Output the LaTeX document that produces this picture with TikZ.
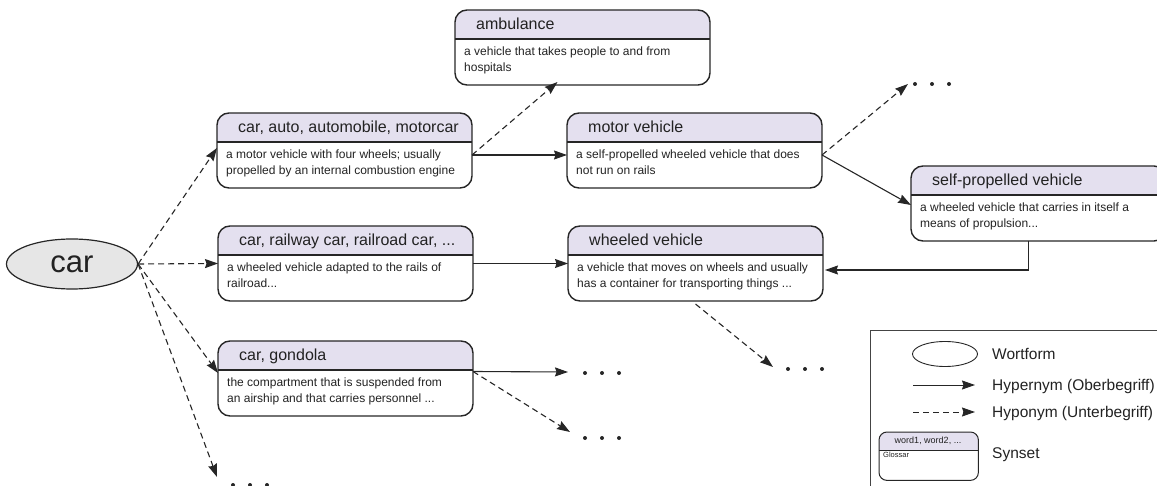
\documentclass[tikz,border=0pt]{standalone}
\usepackage{fontspec}
\setmainfont{Liberation Sans}
\usetikzlibrary{arrows.meta,calc,shapes.geometric}
\definecolor{lav}{HTML}{E4E0EF}
\definecolor{ellfill}{HTML}{E6E6E6}
\definecolor{edgecol}{HTML}{262626}
\definecolor{txt}{HTML}{222222}
\definecolor{legcol}{HTML}{444444}

\tikzset{
  sbox/.style={anchor=north west, minimum width=255pt, minimum height=75pt, inner sep=0pt, outer sep=0pt},
  shead/.style={anchor=base west, inner sep=0pt, font=\fontsize{16}{19}\selectfont, text=txt},
  sbody/.style={anchor=north west, inner sep=0pt, align=left, font=\fontsize{12}{15.5}\selectfont, text=txt},
  hyper/.style={draw=edgecol, line width=1.1pt, -{Stealth[length=13pt,width=9pt,inset=1.5pt]}},
  hypo/.style={hyper, dash pattern=on 6pt off 4pt},
  legtext/.style={anchor=base west, inner sep=0pt, font=\fontsize{15.5}{19}\selectfont, text=txt},
}

\newcommand\synsetbox[6]{%
  \node[sbox] (#1) at (#2,#3) {};
  \begin{scope}
    \clip[rounded corners=12pt] (#1.north west) rectangle (#1.south east);
    \fill[lav] (#1.north west) rectangle ([yshift=-29pt]#1.north east);
  \end{scope}
  \draw[edgecol, line width=1.1pt] ([yshift=-29pt]#1.north west) -- ([yshift=-29pt]#1.north east);
  \draw[edgecol, line width=1.4pt, rounded corners=12pt] (#1.north west) rectangle (#1.south east);
  \node[shead] (#1-h) at ([xshift=21pt,yshift=-20pt]#1.north west) {#4};
  \node[sbody] (#1-b) at ([xshift=9pt,yshift=-34.5pt]#1.north west) {\strut #5\\#6};
}

\newcommand\dotrow[3]{%
  \coordinate (#1) at (#2,#3);
  \foreach \k in {0,1,2} \fill[edgecol] ([xshift=\k*17pt]#1) circle (2pt);
}

\begin{document}
\begin{tikzpicture}[x=1pt,y=-1pt]
\useasboundingbox (0,0) rectangle (1157,486);
\clip (0,0) rectangle (1157,486);

% word form
\node[ellipse, draw=edgecol, line width=1.2pt, fill=ellfill, minimum width=131pt, minimum height=50pt,
      inner sep=0pt, font=\fontsize{31}{36}\selectfont, text=txt] (car) at (72,264) {car};

% synsets
\synsetbox{auto}{217}{113}{car, auto, automobile, motorcar}{a motor vehicle with four wheels; usually}{propelled by an internal combustion engine}
\synsetbox{amb}{455}{10}{ambulance}{a vehicle that takes people to and from}{hospitals}
\synsetbox{motor}{567}{113}{motor vehicle}{a self-propelled wheeled vehicle that does}{not run on rails}
\synsetbox{self}{911}{166}{self-propelled vehicle}{a wheeled vehicle that carries in itself a}{means of propulsion...}
\synsetbox{rail}{218}{226}{car, railway car, railroad car, ...}{a wheeled vehicle adapted to the rails of}{railroad...}
\synsetbox{wheel}{568}{226}{wheeled vehicle}{a vehicle that moves on wheels and usually}{has a container for transporting things ...}
\synsetbox{gond}{218}{341}{car, gondola}{the compartment that is suspended from}{an airship and that carries personnel ...}

% dots
\dotrow{dA}{915}{84}
\dotrow{dB}{788}{369}
\dotrow{dC}{585}{373}
\dotrow{dD}{585}{438}
\dotrow{dE}{233}{485}

\coordinate (tA) at (908,84);
\coordinate (tB) at (773,367);
\coordinate (tC) at (568,372);
\coordinate (tD) at (570,432);
\coordinate (tE) at (217,477);

% connectors from car
\draw[hypo] (car.east) -- ([yshift=2.5pt]auto.west);
\draw[hypo] (car.east) -- (rail.west);
\draw[hypo] (car.east) -- ([yshift=5.5pt]gond.west);
\draw[hypo] (car.east) -- (tE);

% connectors from car,auto
\draw[hypo] ([yshift=-4.5pt]auto.east) -- ([xshift=-25pt,yshift=3pt]amb.south);
\draw[hyper] ([yshift=-4.5pt]auto.east) -- ([yshift=-4.5pt]motor.west);

% motor vehicle
\draw[hypo] ([yshift=-4.5pt]motor.east) -- (tA);
\draw[hyper] ([yshift=-4.5pt]motor.east) -- ([yshift=-1.5pt]self.west);

% self-propelled -> wheeled
\draw[hyper] ([xshift=-10pt]self.south) |- ([xshift=2pt,yshift=-6.5pt]wheel.east);

% railway -> wheeled
\draw[hyper] (rail.east) -- (wheel.west);

% wheeled -> dots
\draw[hypo] ([yshift=-3pt]wheel.south) -- (tB);

% gondola
\draw[hyper] ([yshift=7pt]gond.east) -- (tC);
\draw[hypo] ([yshift=7pt]gond.east) -- (tD);

% legend
\draw[legcol, line width=0.9pt] (870,330) rectangle (1180,500);
\node[ellipse, draw=edgecol, line width=0.9pt, minimum width=65pt, minimum height=25pt, inner sep=0pt] (lw) at (945,354) {};
\node[legtext] (lwt) at (992,359.5) {Wortform};
\coordinate (lh1) at (913,385);
\coordinate (lh2) at (975,385);
\draw[hyper, line width=1pt] (lh1) -- (lh2);
\node[legtext] (lht) at (992,390.5) {Hypernym (Oberbegriff)};
\coordinate (lo1) at (913,412);
\coordinate (lo2) at (975,412);
\draw[hypo, line width=1pt] (lo1) -- (lo2);
\node[legtext] (lot) at (992,417.5) {Hyponym (Unterbegriff)};

\node[anchor=north west, minimum width=99pt, minimum height=48pt, inner sep=0pt] (ls) at (879,432) {};
\begin{scope}
  \clip[rounded corners=8pt] (ls.north west) rectangle (ls.south east);
  \fill[lav] (ls.north west) rectangle ([yshift=-18pt]ls.north east);
\end{scope}
\draw[edgecol, line width=0.8pt] ([yshift=-18pt]ls.north west) -- ([yshift=-18pt]ls.north east);
\draw[edgecol, line width=1pt, rounded corners=8pt] (ls.north west) rectangle (ls.south east);
\node[inner sep=0pt, font=\fontsize{9}{11}\selectfont, text=txt] (lsh) at (928,441) {word1, word2, ...};
\node[anchor=west, inner sep=0pt, font=\fontsize{7.5}{9}\selectfont, text=txt] (lsb) at (883,455) {Glossar};
\node[legtext] (lst) at (992,458.5) {Synset};
\end{tikzpicture}
\end{document}
